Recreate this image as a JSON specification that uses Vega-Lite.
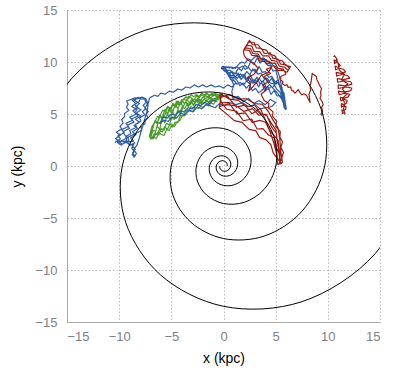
{
"$schema":"https://vega.github.io/schema/vega-lite/v6.json",
"width":313,"height":312,
"autosize":{"type":"none"},
"padding":{"left":67,"top":10,"right":14,"bottom":47},
"background":"white",
"config":{"view":{"stroke":null},"axis":{"grid":true,"gridDash":[1.5,2],"gridColor":"#b8b8b8","gridWidth":1,"domainColor":"#aaaaaa","ticks":false,"labelColor":"#808080","labelFont":"Liberation Sans","labelFontSize":13,"titleFont":"Liberation Sans","titleFontSize":14,"titleFontWeight":"normal","titleColor":"#000000"}},
"datasets":{
"spiral":[
{"a":"A","x":-0.358,"y":0},{"a":"A","x":-0.346,"y":-0.2},{"a":"A","x":-0.223,"y":-0.387},{"a":"A","x":0,"y":-0.498},{"a":"A","x":0.278,"y":-0.482},{"a":"A","x":0.538,"y":-0.31},{"a":"A","x":0.693,"y":0},{"a":"A","x":0.67,"y":0.387},{"a":"A","x":0.432,"y":0.748},{"a":"A","x":0,"y":0.964},{"a":"A","x":-0.538,"y":0.932},{"a":"A","x":-1.04,"y":0.6},{"a":"A","x":-1.34,"y":0},{"a":"A","x":-1.296,"y":-0.748},{"a":"A","x":-0.835,"y":-1.446},{"a":"A","x":0,"y":-1.864},{"a":"A","x":1.041,"y":-1.802},{"a":"A","x":2.012,"y":-1.162},{"a":"A","x":2.593,"y":0},{"a":"A","x":2.506,"y":1.447},{"a":"A","x":1.615,"y":2.797},{"a":"A","x":0,"y":3.606},{"a":"A","x":-2.013,"y":3.486},{"a":"A","x":-3.891,"y":2.247},{"a":"A","x":-5.015,"y":0},{"a":"A","x":-4.848,"y":-2.799},{"a":"A","x":-3.124,"y":-5.411},{"a":"A","x":0,"y":-6.975},{"a":"A","x":3.893,"y":-6.742},{"a":"A","x":7.526,"y":-4.345},{"a":"A","x":9.7,"y":0},{"a":"A","x":9.376,"y":5.414},{"a":"A","x":6.043,"y":10.467},{"a":"A","x":0,"y":13.491},{"a":"A","x":-7.53,"y":13.041},{"a":"A","x":-14.557,"y":8.405},{"a":"A","x":-18.763,"y":0},
{"a":"B","x":0.358,"y":0},{"a":"B","x":0.346,"y":0.2},{"a":"B","x":0.223,"y":0.387},{"a":"B","x":0,"y":0.498},{"a":"B","x":-0.278,"y":0.482},{"a":"B","x":-0.538,"y":0.31},{"a":"B","x":-0.693,"y":0},{"a":"B","x":-0.67,"y":-0.387},{"a":"B","x":-0.432,"y":-0.748},{"a":"B","x":0,"y":-0.964},{"a":"B","x":0.538,"y":-0.932},{"a":"B","x":1.04,"y":-0.6},{"a":"B","x":1.34,"y":0},{"a":"B","x":1.296,"y":0.748},{"a":"B","x":0.835,"y":1.446},{"a":"B","x":0,"y":1.864},{"a":"B","x":-1.041,"y":1.802},{"a":"B","x":-2.012,"y":1.162},{"a":"B","x":-2.593,"y":0},{"a":"B","x":-2.506,"y":-1.447},{"a":"B","x":-1.615,"y":-2.797},{"a":"B","x":0,"y":-3.606},{"a":"B","x":2.013,"y":-3.486},{"a":"B","x":3.891,"y":-2.247},{"a":"B","x":5.015,"y":0},{"a":"B","x":4.848,"y":2.799},{"a":"B","x":3.124,"y":5.411},{"a":"B","x":0,"y":6.975},{"a":"B","x":-3.893,"y":6.742},{"a":"B","x":-7.526,"y":4.345},{"a":"B","x":-9.7,"y":0},{"a":"B","x":-9.376,"y":-5.414},{"a":"B","x":-6.043,"y":-10.467},{"a":"B","x":0,"y":-13.491},{"a":"B","x":7.53,"y":-13.041},{"a":"B","x":14.557,"y":-8.405},{"a":"B","x":18.763,"y":0}
],
"green":[
{"x":-7.0,"y":2.72},{"x":-6.75,"y":3.41},{"x":-6.5,"y":3.35},{"x":-6.25,"y":4.19},{"x":-6.0,"y":4.07},{"x":-5.75,"y":4.87},{"x":-5.5,"y":4.59},{"x":-5.25,"y":5.43},{"x":-5.0,"y":5.13},{"x":-4.75,"y":5.55},{"x":-4.5,"y":6.24},{"x":-4.25,"y":5.82},{"x":-4.0,"y":6.4},{"x":-3.75,"y":5.99},{"x":-3.5,"y":6.39},{"x":-3.25,"y":6.04},{"x":-3.0,"y":6.45},{"x":-2.75,"y":6.02},{"x":-2.5,"y":6.43},{"x":-2.25,"y":6.25},{"x":-2.0,"y":6.58},{"x":-1.75,"y":6.81},{"x":-1.5,"y":6.55},{"x":-1.25,"y":6.88},{"x":-1.0,"y":6.72},{"x":-0.75,"y":6.95},{"x":-0.5,"y":6.81},{"x":-0.25,"y":6.91},
{"x":-0.13,"y":6.87},{"x":-0.38,"y":6.67},{"x":-0.63,"y":6.7},{"x":-0.88,"y":6.36},{"x":-1.13,"y":6.5},{"x":-1.38,"y":6.16},{"x":-1.63,"y":6.33},{"x":-1.88,"y":6.02},{"x":-2.13,"y":6.18},{"x":-2.38,"y":5.83},{"x":-2.63,"y":5.94},{"x":-2.88,"y":5.57},{"x":-3.13,"y":5.7},{"x":-3.38,"y":5.22},{"x":-3.63,"y":5.32},{"x":-3.88,"y":4.8},{"x":-4.13,"y":4.88},{"x":-4.38,"y":4.17},{"x":-4.63,"y":4.23},{"x":-4.88,"y":3.75},{"x":-5.13,"y":4.05},{"x":-5.38,"y":3.51},{"x":-5.63,"y":3.79},{"x":-5.88,"y":3.26},{"x":-6.13,"y":3.53},{"x":-6.38,"y":3.05},{"x":-6.63,"y":3.13},{"x":-6.88,"y":2.66},
{"x":-7.1,"y":2.9},{"x":-6.85,"y":3.83},{"x":-6.6,"y":4.15},{"x":-6.35,"y":4.74},{"x":-6.1,"y":4.76},{"x":-5.85,"y":5.35},{"x":-5.6,"y":5.31},{"x":-5.35,"y":5.74},{"x":-5.1,"y":5.5},{"x":-4.85,"y":6.03},{"x":-4.6,"y":5.78},{"x":-4.35,"y":6.24},{"x":-4.1,"y":6.0},{"x":-3.85,"y":6.37},{"x":-3.6,"y":6.66},{"x":-3.35,"y":6.46},{"x":-3.1,"y":6.85},{"x":-2.85,"y":6.65},{"x":-2.6,"y":6.88},{"x":-2.35,"y":6.68},{"x":-2.1,"y":7.0},{"x":-1.85,"y":6.87},{"x":-1.6,"y":7.0},{"x":-1.35,"y":6.81},{"x":-1.1,"y":6.96},{"x":-0.85,"y":6.8},{"x":-0.6,"y":6.88},{"x":-0.35,"y":6.85},
{"x":-0.19,"y":6.71},{"x":-0.44,"y":6.39},{"x":-0.69,"y":6.35},{"x":-0.94,"y":5.94},{"x":-1.19,"y":6.07},{"x":-1.44,"y":5.77},{"x":-1.69,"y":5.92},{"x":-1.94,"y":5.6},{"x":-2.19,"y":5.75},{"x":-2.44,"y":5.53},{"x":-2.69,"y":5.63},{"x":-2.94,"y":5.25},{"x":-3.19,"y":5.27},{"x":-3.44,"y":5.4},{"x":-3.69,"y":4.85},{"x":-3.94,"y":4.9},{"x":-4.19,"y":4.35},{"x":-4.44,"y":4.28},{"x":-4.69,"y":3.81},{"x":-4.94,"y":4.0},{"x":-5.19,"y":3.43},{"x":-5.44,"y":3.51},{"x":-5.69,"y":2.95},{"x":-5.94,"y":3.03},{"x":-6.19,"y":3.2},{"x":-6.44,"y":2.65},{"x":-6.69,"y":2.78},{"x":-6.94,"y":2.63},
{"x":-6.87,"y":2.75},{"x":-6.62,"y":2.85},{"x":-6.37,"y":3.85},{"x":-6.12,"y":3.53},{"x":-5.87,"y":4.53},{"x":-5.62,"y":4.15},{"x":-5.37,"y":5.07},{"x":-5.12,"y":4.43},{"x":-4.87,"y":5.25},{"x":-4.62,"y":4.59},{"x":-4.37,"y":5.43},{"x":-4.12,"y":4.98},{"x":-3.87,"y":5.7},{"x":-3.62,"y":6.18},{"x":-3.37,"y":5.67},{"x":-3.12,"y":6.21},{"x":-2.87,"y":5.81},{"x":-2.62,"y":6.41},{"x":-2.37,"y":6.2},{"x":-2.12,"y":5.96},{"x":-1.87,"y":6.44},{"x":-1.62,"y":6.19},{"x":-1.37,"y":6.55},{"x":-1.12,"y":6.32},{"x":-0.87,"y":6.48},{"x":-0.62,"y":6.35},{"x":-0.37,"y":6.67},{"x":-0.12,"y":6.75},
{"x":-0.33,"y":6.93},{"x":-0.58,"y":6.85},{"x":-0.83,"y":7.0},{"x":-1.08,"y":6.9},{"x":-1.33,"y":6.75},{"x":-1.58,"y":6.94},{"x":-1.83,"y":6.67},{"x":-2.08,"y":6.86},{"x":-2.33,"y":6.54},{"x":-2.58,"y":6.73},{"x":-2.83,"y":6.33},{"x":-3.08,"y":6.53},{"x":-3.33,"y":6.72},{"x":-3.58,"y":6.3},{"x":-3.83,"y":6.46},{"x":-4.08,"y":5.9},{"x":-4.33,"y":6.14},{"x":-4.58,"y":5.66},{"x":-4.83,"y":5.91},{"x":-5.08,"y":5.38},{"x":-5.33,"y":5.68},{"x":-5.58,"y":5.07},{"x":-5.83,"y":4.51},{"x":-6.08,"y":4.76},{"x":-6.33,"y":4.19},{"x":-6.58,"y":4.35},{"x":-6.83,"y":3.55},{"x":-7.08,"y":2.81},
{"x":-6.96,"y":2.6},{"x":-6.71,"y":2.64},{"x":-6.46,"y":3.15},{"x":-6.21,"y":2.98},{"x":-5.96,"y":3.61},{"x":-5.71,"y":3.43},{"x":-5.46,"y":4.11},{"x":-5.21,"y":3.93},{"x":-4.96,"y":4.63},{"x":-4.71,"y":4.47},{"x":-4.46,"y":5.2},{"x":-4.21,"y":5.09},{"x":-3.96,"y":5.7},{"x":-3.71,"y":5.51},{"x":-3.46,"y":6.03},{"x":-3.21,"y":5.87},{"x":-2.96,"y":6.29},{"x":-2.71,"y":6.1},{"x":-2.46,"y":6.5},{"x":-2.21,"y":6.32},{"x":-1.96,"y":6.65},{"x":-1.71,"y":6.47},{"x":-1.46,"y":6.74},{"x":-1.21,"y":6.57},{"x":-0.96,"y":6.84},{"x":-0.71,"y":6.7},{"x":-0.46,"y":6.81},{"x":-0.21,"y":6.81},
{"x":-0.37,"y":6.67},{"x":-0.62,"y":6.53},{"x":-0.87,"y":6.25},{"x":-1.12,"y":6.36},{"x":-1.37,"y":6.01},{"x":-1.62,"y":6.35},{"x":-1.87,"y":5.99},{"x":-2.12,"y":6.37},{"x":-2.37,"y":5.96},{"x":-2.62,"y":6.35},{"x":-2.87,"y":5.87},{"x":-3.12,"y":6.29},{"x":-3.37,"y":5.78},{"x":-3.62,"y":6.21},{"x":-3.87,"y":5.7},{"x":-4.12,"y":6.1},{"x":-4.37,"y":5.51},{"x":-4.62,"y":5.89},{"x":-4.87,"y":5.19},{"x":-5.12,"y":5.63},{"x":-5.37,"y":4.93},{"x":-5.62,"y":5.43},{"x":-5.87,"y":4.63},{"x":-6.12,"y":4.87},{"x":-6.37,"y":4.08},{"x":-6.62,"y":4.25},{"x":-6.87,"y":3.2},{"x":-7.12,"y":2.81}
],
"blue":[
{"x":-8.5,"y":0.9},{"x":-8.7,"y":1.3},{"x":-8.45,"y":1.6},{"x":-8.75,"y":1.95},{"x":-8.5,"y":2.25},{"x":-8.9,"y":2.0},{"x":-9.3,"y":2.3},{"x":-9.7,"y":2.1},{"x":-10.1,"y":2.4},
{"x":-10.38,"y":2.3},{"x":-9.88,"y":2.6},{"x":-10.13,"y":2.9},{"x":-9.51,"y":3.2},{"x":-9.78,"y":3.5},{"x":-9.11,"y":3.8},{"x":-9.35,"y":4.1},{"x":-8.71,"y":4.4},{"x":-8.99,"y":4.7},{"x":-8.35,"y":5.0},{"x":-8.69,"y":5.3},{"x":-8.18,"y":5.6},{"x":-8.54,"y":5.9},{"x":-8.08,"y":6.2},{"x":-7.95,"y":6.5},
{"x":-8.21,"y":6.6},{"x":-8.52,"y":6.3},{"x":-8.06,"y":6.0},{"x":-8.43,"y":5.7},{"x":-7.91,"y":5.4},{"x":-8.35,"y":5.1},{"x":-7.91,"y":4.8},{"x":-8.44,"y":4.5},{"x":-8.05,"y":4.2},{"x":-8.59,"y":3.9},{"x":-8.22,"y":3.6},{"x":-8.74,"y":3.3},{"x":-8.38,"y":3.0},{"x":-8.92,"y":2.7},{"x":-8.62,"y":2.4},
{"x":-9.5,"y":2.22},{"x":-9.28,"y":2.52},{"x":-9.38,"y":2.82},{"x":-8.87,"y":3.12},{"x":-9.0,"y":3.42},{"x":-8.33,"y":3.72},{"x":-8.44,"y":4.02},{"x":-7.91,"y":4.32},{"x":-8.05,"y":4.62},{"x":-7.54,"y":4.92},{"x":-7.78,"y":5.22},{"x":-7.43,"y":5.52},{"x":-7.7,"y":5.82},{"x":-7.42,"y":6.12},{"x":-7.56,"y":6.42},
{"x":-8.47,"y":6.55},{"x":-9.29,"y":6.25},{"x":-9.14,"y":5.95},{"x":-9.3,"y":5.65},{"x":-9.08,"y":5.35},{"x":-9.48,"y":5.05},{"x":-9.48,"y":4.75},{"x":-9.77,"y":4.45},{"x":-9.61,"y":4.15},{"x":-9.89,"y":3.85},{"x":-9.78,"y":3.55},{"x":-10.27,"y":3.25},{"x":-9.88,"y":2.95},{"x":-10.36,"y":2.65},{"x":-9.94,"y":2.35},
{"x":-9.06,"y":2.42},{"x":-9.16,"y":2.72},{"x":-9.5,"y":3.02},{"x":-9.64,"y":3.32},{"x":-9.0,"y":3.62},{"x":-9.24,"y":3.92},{"x":-8.57,"y":4.22},{"x":-8.84,"y":4.52},{"x":-8.18,"y":4.82},{"x":-8.49,"y":5.12},{"x":-8.3,"y":5.42},{"x":-8.8,"y":5.72},{"x":-8.42,"y":6.02},{"x":-8.74,"y":6.32},{"x":-7.82,"y":6.62},
{"x":-7.43,"y":6.45},{"x":-7.31,"y":6.15},{"x":-7.34,"y":5.85},{"x":-7.55,"y":5.55},{"x":-7.21,"y":5.25},{"x":-7.41,"y":4.95},{"x":-7.24,"y":4.65},{"x":-7.52,"y":4.35},{"x":-7.53,"y":4.05},{"x":-7.94,"y":3.75},{"x":-7.83,"y":3.45},{"x":-8.36,"y":3.15},{"x":-9.0,"y":2.85},{"x":-9.52,"y":2.55},{"x":-10.16,"y":2.25},
{"x":-9.8,"y":2.0},{"x":-9.4,"y":2.35},{"x":-9.0,"y":2.05},{"x":-8.6,"y":2.1},{"x":-8.8,"y":1.7},{"x":-8.55,"y":1.4},{"x":-8.75,"y":1.1},{"x":-8.55,"y":0.85},{"x":-8.35,"y":1.2},{"x":-8.6,"y":1.6},{"x":-8.3,"y":2.0},{"x":-8.1,"y":2.6},{"x":-7.9,"y":3.3},{"x":-7.7,"y":4.0},{"x":-7.5,"y":4.7},{"x":-7.3,"y":5.4},{"x":-7.2,"y":6.1},{"x":-7.1,"y":6.5},
{"x":-7.0,"y":6.6},{"x":-6.6,"y":6.8},{"x":-6.3,"y":6.7},{"x":-6.0,"y":7.0},{"x":-5.6,"y":6.9},{"x":-5.2,"y":7.2},{"x":-4.8,"y":7.1},{"x":-4.4,"y":7.4},{"x":-4.0,"y":7.3},{"x":-3.6,"y":7.6},{"x":-3.2,"y":7.5},{"x":-2.8,"y":7.8},{"x":-2.4,"y":7.6},{"x":-2.0,"y":7.8},{"x":-1.6,"y":7.6},{"x":-1.2,"y":7.8},{"x":-0.8,"y":7.6},{"x":-0.4,"y":7.7},{"x":0.0,"y":7.5},
{"x":0.4,"y":7.8},{"x":0.8,"y":7.6},{"x":1.2,"y":8.0},{"x":0.8,"y":8.5},{"x":0.4,"y":8.9},{"x":0.1,"y":9.3},
{"x":-0.1,"y":9.58},{"x":0.3,"y":9.48},{"x":0.6,"y":9.54},{"x":0.9,"y":9.34},{"x":1.2,"y":9.54},{"x":1.5,"y":9.42},{"x":1.8,"y":9.6},{"x":2.1,"y":9.3},{"x":2.4,"y":9.49},{"x":2.7,"y":9.1},{"x":3.0,"y":9.31},{"x":3.3,"y":8.83},{"x":3.6,"y":8.92},{"x":3.9,"y":8.4},{"x":4.2,"y":8.45},{"x":4.5,"y":7.96},{"x":4.8,"y":7.92},{"x":5.1,"y":7.38},{"x":5.4,"y":7.12},{"x":5.7,"y":6.4},{"x":5.9,"y":5.55},
{"x":6.0,"y":5.46},{"x":5.8,"y":7.0},{"x":5.5,"y":7.54},{"x":5.2,"y":8.28},{"x":4.9,"y":7.92},{"x":4.6,"y":8.43},{"x":4.3,"y":7.97},{"x":4.0,"y":8.4},{"x":3.7,"y":8.03},{"x":3.4,"y":8.42},{"x":3.1,"y":7.95},{"x":2.8,"y":8.35},{"x":2.5,"y":7.91},{"x":2.2,"y":8.16},{"x":1.9,"y":7.78},{"x":1.6,"y":8.02},{"x":1.3,"y":7.86},{"x":1.0,"y":8.2},{"x":0.7,"y":8.29},{"x":0.4,"y":8.8},{"x":0.2,"y":9.15},
{"x":-0.18,"y":9.35},{"x":0.22,"y":9.22},{"x":0.52,"y":8.95},{"x":0.82,"y":9.1},{"x":1.12,"y":8.88},{"x":1.42,"y":9.39},{"x":1.72,"y":9.15},{"x":2.02,"y":9.71},{"x":2.32,"y":9.42},{"x":2.62,"y":10.04},{"x":2.92,"y":9.75},{"x":3.22,"y":10.39},{"x":3.52,"y":9.89},{"x":3.82,"y":10.28},{"x":4.12,"y":9.79},{"x":4.42,"y":9.89},{"x":4.72,"y":9.14},{"x":5.02,"y":9.18},{"x":5.32,"y":8.02},{"x":5.62,"y":6.8},{"x":5.82,"y":5.58},
{"x":5.95,"y":5.52},{"x":5.75,"y":6.0},{"x":5.45,"y":6.74},{"x":5.15,"y":6.73},{"x":4.85,"y":7.24},{"x":4.55,"y":6.89},{"x":4.25,"y":7.66},{"x":3.95,"y":7.2},{"x":3.65,"y":8.07},{"x":3.35,"y":7.6},{"x":3.05,"y":8.35},{"x":2.75,"y":7.98},{"x":2.45,"y":8.63},{"x":2.15,"y":8.26},{"x":1.85,"y":8.79},{"x":1.55,"y":8.47},{"x":1.25,"y":8.93},{"x":0.95,"y":8.8},{"x":0.65,"y":9.19},{"x":0.35,"y":9.2},{"x":0.1,"y":9.48},
{"x":0.2,"y":9.25},{"x":0.42,"y":9.05},{"x":0.72,"y":8.69},{"x":1.02,"y":8.7},{"x":1.32,"y":8.42},{"x":1.62,"y":8.87},{"x":1.92,"y":8.56},{"x":2.22,"y":9.09},{"x":2.52,"y":8.77},{"x":2.82,"y":9.33},{"x":3.12,"y":8.95},{"x":3.42,"y":9.57},{"x":3.72,"y":9.0},{"x":4.02,"y":9.08},{"x":4.32,"y":8.53},{"x":4.62,"y":8.62},{"x":4.92,"y":8.11},{"x":5.22,"y":8.03},{"x":5.52,"y":7.32},{"x":5.82,"y":6.6},{"x":6.02,"y":5.49},
{"x":5.85,"y":5.61},{"x":5.65,"y":7.3},{"x":5.35,"y":8.66},{"x":5.05,"y":9.54},{"x":4.75,"y":9.67},{"x":4.45,"y":10.04},{"x":4.15,"y":10.03},{"x":3.85,"y":10.4},{"x":3.55,"y":10.3},{"x":3.25,"y":10.64},{"x":2.95,"y":10.43},{"x":2.65,"y":10.15},{"x":2.35,"y":10.32},{"x":2.05,"y":9.88},{"x":1.75,"y":9.99},{"x":1.45,"y":9.78},{"x":1.15,"y":9.39},{"x":0.85,"y":9.5},{"x":0.55,"y":9.42},{"x":0.25,"y":9.55},{"x":-0.15,"y":9.54},
{"x":0.0,"y":9.2},{"x":0.37,"y":8.95},{"x":0.67,"y":8.53},{"x":0.97,"y":8.54},{"x":1.27,"y":8.27},{"x":1.57,"y":7.71},{"x":1.87,"y":7.98},{"x":2.17,"y":7.47},{"x":2.47,"y":7.8},{"x":2.77,"y":7.23},{"x":3.07,"y":7.47},{"x":3.37,"y":7.03},{"x":3.67,"y":7.26},{"x":3.97,"y":7.6},{"x":4.27,"y":7.34},{"x":4.57,"y":7.66},{"x":4.87,"y":7.35},{"x":5.17,"y":7.02},{"x":5.47,"y":6.58},{"x":5.77,"y":6.2},{"x":5.97,"y":5.43},
{"x":5.8,"y":5.64},{"x":5.6,"y":7.2},{"x":5.3,"y":8.02},{"x":5.0,"y":7.92},{"x":4.7,"y":7.54},{"x":4.4,"y":7.85},{"x":4.1,"y":7.54},{"x":3.8,"y":8.2},{"x":3.5,"y":7.87},{"x":3.2,"y":8.55},{"x":2.9,"y":7.95},{"x":2.6,"y":8.73},{"x":2.3,"y":8.16},{"x":2.0,"y":8.85},{"x":1.7,"y":8.3},{"x":1.4,"y":8.93},{"x":1.1,"y":8.5},{"x":0.8,"y":9.0},{"x":0.5,"y":8.88},{"x":0.2,"y":9.3},{"x":-0.2,"y":9.45},
{"x":0.3,"y":9.0},{"x":0.7,"y":8.4},{"x":1.0,"y":7.8},{"x":0.8,"y":7.2},{"x":0.9,"y":6.5},
{"x":1.4,"y":6.7},{"x":1.9,"y":6.2},{"x":2.4,"y":6.5},{"x":2.9,"y":6.0},{"x":3.4,"y":6.3},{"x":4.0,"y":5.9},{"x":4.5,"y":6.4},{"x":5.0,"y":6.1},{"x":4.6,"y":5.7},{"x":4.0,"y":5.6},{"x":3.5,"y":5.5},{"x":3.0,"y":5.9},{"x":2.4,"y":5.7},{"x":1.8,"y":6.1},{"x":1.2,"y":5.9},{"x":0.6,"y":6.1},{"x":0.1,"y":5.8},{"x":-0.4,"y":6.0},{"x":-0.8,"y":5.6},{"x":-1.3,"y":5.8},{"x":-1.7,"y":5.9},{"x":-2.1,"y":5.5},{"x":-2.5,"y":5.7},{"x":-2.9,"y":5.2},{"x":-3.3,"y":5.4},{"x":-3.7,"y":4.9},{"x":-4.1,"y":5.1},{"x":-4.5,"y":4.6},{"x":-4.9,"y":4.7},{"x":-5.3,"y":4.3},{"x":-5.7,"y":4.4},{"x":-6.1,"y":4.1},{"x":-5.8,"y":4.7},{"x":-5.4,"y":4.6},{"x":-5.0,"y":5.0},{"x":-4.6,"y":4.9},{"x":-4.2,"y":5.3},{"x":-3.8,"y":5.2},{"x":-3.4,"y":5.6},{"x":-3.0,"y":5.5},{"x":-2.6,"y":5.9},{"x":-2.2,"y":5.8},{"x":-1.8,"y":6.1},{"x":-1.4,"y":5.95},{"x":-1.0,"y":6.3},{"x":-0.6,"y":6.2}
],
"red":[
{"x":-0.3,"y":6.25},{"x":0.29,"y":5.46},{"x":1.24,"y":5.27},{"x":1.9,"y":4.35},{"x":2.7,"y":4.52},{"x":3.22,"y":3.56},{"x":3.78,"y":3.59},{"x":4.31,"y":2.98},{"x":4.85,"y":2.7},{"x":5.04,"y":1.78},{"x":5.36,"y":1.16},{"x":5.45,"y":0.25},
{"x":5.43,"y":0.19},{"x":5.35,"y":1.0},{"x":5.21,"y":2.04},{"x":5.07,"y":3.14},{"x":4.6,"y":3.76},{"x":4.18,"y":4.83},{"x":3.57,"y":5.05},{"x":2.98,"y":5.84},{"x":2.16,"y":5.7},{"x":1.44,"y":6.31},{"x":0.51,"y":6.45},{"x":-0.22,"y":6.93},
{"x":-0.37,"y":5.74},{"x":0.28,"y":5.9},{"x":1.23,"y":5.79},{"x":1.95,"y":5.25},{"x":2.78,"y":5.51},{"x":3.39,"y":4.88},{"x":4.07,"y":4.98},{"x":4.56,"y":4.15},{"x":5.03,"y":3.47},{"x":5.15,"y":2.29},{"x":5.41,"y":1.38},{"x":5.43,"y":0.28},
{"x":5.65,"y":0.34},{"x":5.5,"y":1.33},{"x":5.39,"y":2.63},{"x":5.22,"y":3.69},{"x":4.75,"y":4.41},{"x":4.27,"y":5.29},{"x":3.7,"y":5.94},{"x":2.98,"y":6.0},{"x":2.23,"y":6.45},{"x":1.42,"y":6.44},{"x":0.54,"y":6.89},{"x":-0.25,"y":6.59},
{"x":-0.4,"y":5.57},{"x":0.15,"y":5.13},{"x":1.03,"y":4.36},{"x":1.78,"y":4.2},{"x":2.45,"y":3.53},{"x":3.09,"y":3.4},{"x":3.46,"y":2.75},{"x":4.08,"y":2.51},{"x":4.54,"y":2.04},{"x":4.76,"y":1.27},{"x":5.08,"y":0.83},{"x":5.2,"y":0.16},
{"x":5.55,"y":0.25},{"x":5.19,"y":0.67},{"x":5.02,"y":1.44},{"x":4.81,"y":2.26},{"x":4.48,"y":3.24},{"x":4.04,"y":4.21},{"x":3.47,"y":4.39},{"x":2.75,"y":4.19},{"x":2.1,"y":5.1},{"x":1.31,"y":5.01},{"x":0.48,"y":6.12},{"x":-0.2,"y":6.08},
{"x":-0.35,"y":6.76},{"x":0.41,"y":6.67},{"x":1.23,"y":5.66},{"x":2.05,"y":5.85},{"x":2.73,"y":5.02},{"x":3.53,"y":5.54},{"x":3.97,"y":4.52},{"x":4.4,"y":3.5},{"x":4.87,"y":2.92},{"x":5.23,"y":2.46},{"x":5.37,"y":1.27},{"x":5.35,"y":0.22},
{"x":5.6,"y":0.8},{"x":5.75,"y":1.3},{"x":5.5,"y":1.8},{"x":5.65,"y":2.3},{"x":5.4,"y":2.8},{"x":5.45,"y":3.3},{"x":5.0,"y":3.8},{"x":5.1,"y":4.3},{"x":4.7,"y":4.8},{"x":4.75,"y":5.2},{"x":4.3,"y":5.6},{"x":4.35,"y":6.0},{"x":3.9,"y":6.3},
{"x":3.6,"y":6.9},{"x":4.1,"y":7.3},{"x":3.8,"y":7.8},{"x":4.3,"y":8.1},{"x":3.9,"y":8.6},{"x":4.5,"y":8.9},{"x":4.1,"y":9.3},{"x":4.6,"y":9.5},{"x":4.3,"y":9.0},{"x":3.6,"y":8.7},{"x":3.2,"y":8.1},{"x":2.8,"y":7.6},{"x":2.4,"y":7.2},{"x":2.6,"y":7.9},{"x":2.3,"y":8.5},{"x":2.9,"y":8.8},{"x":3.3,"y":9.4},{"x":2.9,"y":9.9},{"x":2.3,"y":10.2},{"x":2.0,"y":10.6},{"x":1.9,"y":11.0},
{"x":2.49,"y":12.08},{"x":2.78,"y":11.66},{"x":3.32,"y":11.66},{"x":3.62,"y":11.24},{"x":4.11,"y":11.15},{"x":4.38,"y":10.7},{"x":4.89,"y":10.64},{"x":5.16,"y":10.19},{"x":5.65,"y":10.1},{"x":5.94,"y":9.68},{"x":6.42,"y":9.56},
{"x":6.09,"y":9.02},{"x":5.66,"y":9.2},{"x":5.11,"y":9.2},{"x":4.82,"y":9.62},{"x":4.29,"y":9.65},{"x":3.98,"y":10.04},{"x":3.48,"y":10.1},{"x":3.22,"y":10.58},{"x":2.71,"y":10.64},{"x":2.46,"y":11.12},{"x":1.95,"y":11.18},
{"x":2.2,"y":11.6},{"x":2.71,"y":11.54},{"x":2.93,"y":11.0},{"x":3.47,"y":11.0},{"x":3.76,"y":10.58},{"x":4.31,"y":10.58},{"x":4.6,"y":10.16},{"x":5.09,"y":10.07},{"x":5.35,"y":9.59},{"x":5.84,"y":9.5},{"x":6.2,"y":9.2},
{"x":6.31,"y":9.38},{"x":5.98,"y":9.74},{"x":5.47,"y":9.8},{"x":5.22,"y":10.28},{"x":4.73,"y":10.37},{"x":4.49,"y":10.88},{"x":3.91,"y":10.82},{"x":3.65,"y":11.3},{"x":3.14,"y":11.36},{"x":2.92,"y":11.9},{"x":2.38,"y":11.9},
{"x":2.06,"y":11.36},{"x":2.56,"y":11.3},{"x":2.82,"y":10.82},{"x":3.33,"y":10.76},{"x":3.58,"y":10.28},{"x":4.09,"y":10.22},{"x":4.46,"y":9.92},{"x":4.96,"y":9.86},{"x":5.22,"y":9.38},{"x":5.73,"y":9.32},{"x":5.98,"y":8.84},
{"x":5.5,"y":8.6},{"x":5.45,"y":8.3},{"x":5.7,"y":8.1},{"x":5.65,"y":7.9},{"x":5.9,"y":7.75},{"x":6.1,"y":7.8},{"x":6.2,"y":7.55},{"x":6.45,"y":7.6},{"x":6.5,"y":7.3},{"x":6.7,"y":7.2},{"x":6.85,"y":7.0},{"x":7.0,"y":7.15},{"x":7.15,"y":7.35},{"x":7.3,"y":7.1},{"x":7.5,"y":6.85},{"x":7.7,"y":6.95},{"x":7.95,"y":6.8},{"x":8.1,"y":6.5},{"x":8.3,"y":6.1},{"x":8.25,"y":6.5},{"x":8.2,"y":6.9},{"x":8.35,"y":7.3},{"x":8.3,"y":7.7},{"x":8.4,"y":8.1},{"x":8.45,"y":8.5},{"x":8.5,"y":8.9},{"x":8.7,"y":8.75},{"x":8.9,"y":8.6},{"x":8.95,"y":8.3},{"x":9.1,"y":8.0},{"x":9.2,"y":7.75},{"x":9.4,"y":7.45},{"x":9.3,"y":7.1},{"x":9.35,"y":6.8},{"x":9.25,"y":6.5},{"x":9.45,"y":6.2},{"x":9.55,"y":5.9},{"x":9.4,"y":5.6},{"x":9.5,"y":5.3},{"x":9.35,"y":5.0},{"x":9.45,"y":4.85}
],
"red2":[
{"x":10.55,"y":10.5},{"x":10.65,"y":10.6},{"x":10.75,"y":10.45},
{"x":10.9,"y":10.25},{"x":10.75,"y":10.1},{"x":10.6,"y":10.2},
{"x":10.65,"y":9.85},{"x":10.85,"y":10.0},{"x":11.0,"y":9.9},
{"x":11.2,"y":9.65},{"x":10.95,"y":9.5},{"x":10.7,"y":9.6},
{"x":10.75,"y":9.25},{"x":11.1,"y":9.4},{"x":11.5,"y":9.3},
{"x":11.7,"y":9.05},{"x":11.25,"y":8.9},{"x":10.8,"y":9.0},
{"x":10.85,"y":8.65},{"x":11.35,"y":8.8},{"x":11.9,"y":8.7},
{"x":12.1,"y":8.45},{"x":11.5,"y":8.3},{"x":10.9,"y":8.4},
{"x":10.95,"y":8.05},{"x":11.6,"y":8.2},{"x":12.2,"y":8.1},
{"x":12.3,"y":7.85},{"x":11.65,"y":7.7},{"x":11.0,"y":7.8},
{"x":11.0,"y":7.45},{"x":11.65,"y":7.6},{"x":12.3,"y":7.5},
{"x":12.2,"y":7.25},{"x":11.6,"y":7.1},{"x":11.0,"y":7.2},
{"x":11.1,"y":6.85},{"x":11.6,"y":7.0},{"x":12.1,"y":6.9},
{"x":11.95,"y":6.65},{"x":11.55,"y":6.5},{"x":11.2,"y":6.6},
{"x":11.25,"y":6.25},{"x":11.55,"y":6.4},{"x":11.85,"y":6.3},
{"x":11.8,"y":6.05},{"x":11.55,"y":5.9},{"x":11.3,"y":6.0},
{"x":11.3,"y":5.65},{"x":11.5,"y":5.8},{"x":11.75,"y":5.7},
{"x":11.7,"y":5.45},{"x":11.5,"y":5.3},{"x":11.35,"y":5.4},
{"x":11.4,"y":5.05},{"x":11.55,"y":5.15},{"x":11.65,"y":5.0},
{"x":11.5,"y":5.5},{"x":11.65,"y":6.0},{"x":11.4,"y":6.5},{"x":11.8,"y":6.9},{"x":11.4,"y":7.4},{"x":11.9,"y":7.9},{"x":11.3,"y":8.3},{"x":11.6,"y":8.8},{"x":11.1,"y":9.2},{"x":11.0,"y":9.8},{"x":10.8,"y":10.3}
]
},
"encoding":{
"x":{"field":"x","type":"quantitative","scale":{"domain":[-15,15],"nice":false,"zero":false},"axis":{"values":[-15,-10,-5,0,5,10,15],"title":"x (kpc)","labelPadding":8,"titlePadding":8}},
"y":{"field":"y","type":"quantitative","scale":{"domain":[-15,15],"nice":false,"zero":false},"axis":{"values":[-15,-10,-5,0,5,10,15],"title":"y (kpc)","labelPadding":10,"titlePadding":10}},
"order":{"value":null}
},
"layer":[
{"data":{"name":"green"},"mark":{"type":"line","color":"#4c9a2a","strokeWidth":1.2,"strokeJoin":"round","clip":true}},
{"data":{"name":"blue"},"mark":{"type":"line","color":"#2f5ea6","strokeWidth":1.2,"strokeJoin":"round","clip":true}},
{"data":{"name":"red"},"mark":{"type":"line","color":"#991c12","strokeWidth":1.2,"strokeJoin":"round","clip":true}},
{"data":{"name":"red2"},"mark":{"type":"line","color":"#991c12","strokeWidth":1.2,"strokeJoin":"round","clip":true}},
{"data":{"name":"spiral"},"mark":{"type":"line","color":"#000000","strokeWidth":1,"interpolate":"catmull-rom","clip":true},"encoding":{"detail":{"field":"a"}}}
]
}
